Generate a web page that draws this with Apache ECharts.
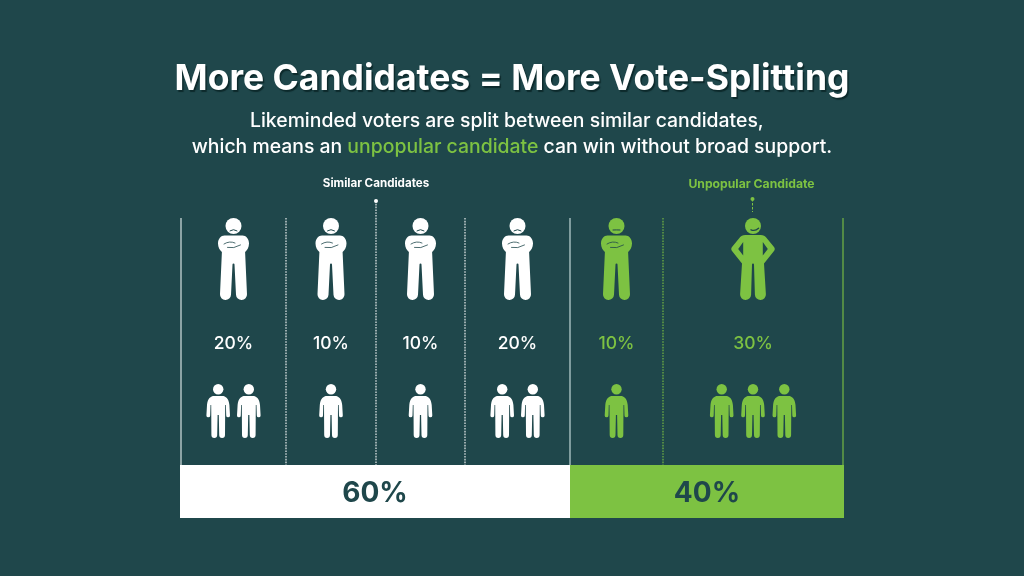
<!DOCTYPE html>
<html><head><meta charset="utf-8">
<style>html,body{margin:0;padding:0;background:#1f474b}#c{width:1024px;height:576px}</style>
<script src="https://cdn.jsdelivr.net/npm/echarts@6/dist/echarts.min.js"></script>
</head><body><div id="c"></div>
<script>
// ---- data ----
const candidates = ['Candidate A','Candidate B','Candidate C','Candidate D','Candidate E','Candidate F'];
const voteShares = [20,10,10,20,10,30];
const voterIcons = [2,1,1,2,1,3];
const candidateMood = ['sad','sad','sad','sad','flat','happy'];
const blocNames = ['Similar Candidates','Unpopular Candidate'];
const blocShares = [60,40];
const titleText = 'More Candidates = More Vote-Splitting';
const subtitleLine1 = 'Likeminded voters are split between similar candidates,';
const subtitleLine2 = ['which means an ','unpopular candidate',' can win without broad support.'];

// ---- layout / style (axis units of the overlay grid: 0-662 across, 0-295 up) ----
const BG='#1f474b', WHITE='#ffffff', GREEN='#7dc242', PALE='#cfe4e4', FONT='Inter';
const columnWidths=[105,90,89,105,93,180];
const isGreen=i=>i>=4;
const ROW={figureTop:247, pct:121, voterTop:81, lineTop:247, lineBottom:0, annotation:281};
const DASH=[1.6,1.2];
const edgeStyles=[
 {stroke:'#e8f0f0',dash:null},{stroke:WHITE,dash:DASH},{stroke:WHITE,dash:DASH,tall:true},{stroke:WHITE,dash:DASH},
 {stroke:PALE,dash:null},{stroke:GREEN,dash:DASH},{stroke:GREEN,dash:null}];
const edges=[0];columnWidths.forEach(w=>edges.push(edges[edges.length-1]+w));
const centers=columnWidths.map((w,i)=>edges[i]+w/2);

const ARMS='M-9,17.5 L9,17.5 C12.5,17.5 15.5,21 15.5,25.5 C15.5,29.5 13.5,32.5 11.6,34 L13.5,76.5 A5.5,5.5 0 0 1 2.5,77 L1,46.5 A1,1 0 0 0 -1,46.5 L-2.5,77 A5.5,5.5 0 0 1 -13.5,76.5 L-11.6,34 C-13.5,32.5 -15.5,29.5 -15.5,25.5 C-15.5,21 -12.5,17.5 -9,17.5 Z';
const HIPS='M-7.7,17 L7.7,17 C10.5,17 12,18 13.2,19.5 L21,29 C22,30.5 22,31.5 21,33 L11,45.5 L12.9,76.5 A5.5,5.5 0 0 1 1.9,77 L1,46.5 A1,1 0 0 0 -1,46.5 L-1.9,77 A5.5,5.5 0 0 1 -12.9,76.5 L-11,45.5 L-21,33 C-22,31.5 -22,30.5 -21,29 L-13.2,19.5 C-12,18 -10.5,17 -7.7,17 Z M9.8,24 L9.8,37.5 L14.8,31 Z M-9.8,24 L-14.8,31 L-9.8,37.5 Z';
const VOTER='M-4,12 L4,12 C7.5,12 10.6,14.5 11.2,21 L11.8,31.5 A1.9,1.9 0 0 1 8,31.5 L7.7,21 L7,21 L6.8,51.2 A2.9,2.9 0 0 1 1,51.2 L0.6,31 L-0.6,31 L-1,51.2 A2.9,2.9 0 0 1 -6.8,51.2 L-7,21 L-7.7,21 L-8,31.5 A1.9,1.9 0 0 1 -11.8,31.5 L-11.2,21 C-10.6,14.5 -7.5,12 -4,12 Z';
const pathEl=(d,x,y,w,h,fill)=>({type:'path',shape:{pathData:d,layout:'cover',x,y,width:w,height:h},style:{fill}});
const curve=(x1,y1,cx,cy,x2,y2,w)=>({type:'bezierCurve',shape:{x1,y1,x2,y2,cpx1:cx,cpy1:cy},style:{fill:null,stroke:BG,lineWidth:w||0.8,lineCap:'round'}});

function figure(i,api){
  const c=api.coord([centers[i],ROW.figureTop]);
  const col=isGreen(i)?GREEN:WHITE, mood=candidateMood[i];
  const kids=[{type:'circle',shape:{cx:0,cy:8,r:8},style:{fill:col}}];
  if(mood==='happy'){
    kids.push(pathEl(HIPS,-21.75,17,43.5,65,col));
    kids.push(curve(-2,11.8,2,13.6,5.6,10.2,1.3));
  }else{
    kids.push(pathEl(ARMS,-15.5,17.5,31,64.5,col));
    kids.push(curve(-9.5,26,-4,22.5,1.5,25));
    kids.push(curve(-6,29.5,0,31,7,27));
    kids.push(mood==='sad'?curve(-3.5,12.8,0,10.4,3.5,12.8,1):curve(-3.5,12,0,11.8,3.5,12,1));
  }
  return {type:'group',x:c[0],y:c[1],children:kids};
}
function voters(i,api){
  const n=voterIcons[i], gap=n===3?31.3:30.6, kids=[], col=isGreen(i)?GREEN:WHITE;
  const c=api.coord([centers[i],ROW.voterTop]);
  for(let k=0;k<n;k++){
    const dx=(k-(n-1)/2)*gap;
    kids.push({type:'circle',shape:{cx:dx,cy:5.2,r:5.2},style:{fill:col}});
    kids.push({type:'group',x:dx,children:[pathEl(VOTER,-11.8,12,23.6,42,col)]});
  }
  return {type:'group',x:c[0],y:c[1],children:kids};
}

const subStyle={color:WHITE,fontFamily:FONT,fontWeight:500,fontSize:19.4,lineHeight:26};
const option={
 backgroundColor:BG, animation:false,
 title:[
  {text:titleText,left:'center',top:56,textStyle:{color:WHITE,fontFamily:FONT,fontWeight:700,fontSize:35.5,
    textShadowColor:'#0d2a2c',textShadowOffsetX:1.5,textShadowOffsetY:2,textShadowBlur:1}},
  {text:subtitleLine1,left:245,top:103,textStyle:subStyle},
  {text:'{a|'+subtitleLine2[0]+'}{g|'+subtitleLine2[1]+'}{a|'+subtitleLine2[2]+'}',left:'center',top:129,
    textStyle:Object.assign({},subStyle,{rich:{a:subStyle,g:Object.assign({},subStyle,{color:GREEN})}})}
 ],
 grid:[
  {left:181,top:170,width:662,height:295},
  {left:180,top:465,width:390,height:53},
  {left:570,top:465,width:274,height:53}
 ],
 xAxis:[
  {type:'value',gridIndex:0,min:0,max:662,show:false},
  {type:'value',gridIndex:1,min:0,max:blocShares[0],show:false},
  {type:'value',gridIndex:2,min:0,max:blocShares[1],show:false}
 ],
 yAxis:[
  {type:'value',gridIndex:0,min:0,max:295,show:false},
  {type:'category',gridIndex:1,data:[blocNames[0]],show:false},
  {type:'category',gridIndex:2,data:[blocNames[1]],show:false}
 ],
 series:[
  {type:'bar',xAxisIndex:1,yAxisIndex:1,barWidth:'100%',silent:true,data:[blocShares[0]],itemStyle:{color:WHITE},
   label:{show:true,position:'inside',offset:[0,2],formatter:'{c}%',color:BG,fontFamily:FONT,fontWeight:700,fontSize:28}},
  {type:'bar',xAxisIndex:2,yAxisIndex:2,barWidth:'100%',silent:true,data:[blocShares[1]],itemStyle:{color:GREEN},
   label:{show:true,position:'inside',offset:[0,2],formatter:'{c}%',color:BG,fontFamily:FONT,fontWeight:700,fontSize:28}},
  {type:'custom',xAxisIndex:0,yAxisIndex:0,silent:true,clip:false,data:edges,
   renderItem(p,api){
    const i=p.dataIndex,s=edgeStyles[i],x=api.coord([edges[i],0])[0];
    const y0=api.coord([0,ROW.lineBottom])[1], y1=api.coord([0,s.tall?ROW.lineTop+17:ROW.lineTop])[1];
    const kids=[{type:'line',shape:{x1:x,y1:y1,x2:x,y2:y0},style:{stroke:s.stroke,lineWidth:1.1,lineDash:s.dash}}];
    if(s.tall) kids.push({type:'circle',shape:{cx:x,cy:y1,r:2},style:{fill:WHITE}});
    return {type:'group',children:kids};
   }},
  {type:'custom',xAxisIndex:0,yAxisIndex:0,silent:true,clip:false,data:candidates,
   renderItem(p,api){
    const i=p.dataIndex, col=isGreen(i)?GREEN:WHITE, c=api.coord([centers[i],ROW.pct]);
    return {type:'group',children:[
      figure(i,api),voters(i,api),
      {type:'text',x:c[0],y:c[1],style:{text:voteShares[i]+'%',fill:col,font:'500 17.5px '+FONT,textAlign:'center',textVerticalAlign:'middle'}}
    ]};
   }},
  {type:'custom',xAxisIndex:0,yAxisIndex:0,silent:true,clip:false,data:blocNames,
   renderItem(p,api){
    const i=p.dataIndex, x=i===0?edges[2]:centers[5]-1.5, col=i===0?WHITE:GREEN;
    const c=api.coord([x,ROW.annotation]);
    const kids=[{type:'text',x:c[0],y:c[1],style:{text:blocNames[i],fill:col,font:'700 '+(i===0?11.6:12.2)+'px '+FONT,textAlign:'center',textVerticalAlign:'middle'}}];
    if(i===1){
      const cx=c[0]+1;
      kids.push({type:'circle',shape:{cx,cy:c[1]+15,r:2},style:{fill:GREEN}});
      kids.push({type:'line',shape:{x1:cx,y1:c[1]+15,x2:cx,y2:c[1]+28},style:{stroke:GREEN,lineWidth:1,lineDash:[2.5,1.5]}});
    }
    return {type:'group',children:kids};
   }}
 ]
};
echarts.init(document.getElementById('c'),null,{renderer:'canvas'}).setOption(option);
</script></body></html>
